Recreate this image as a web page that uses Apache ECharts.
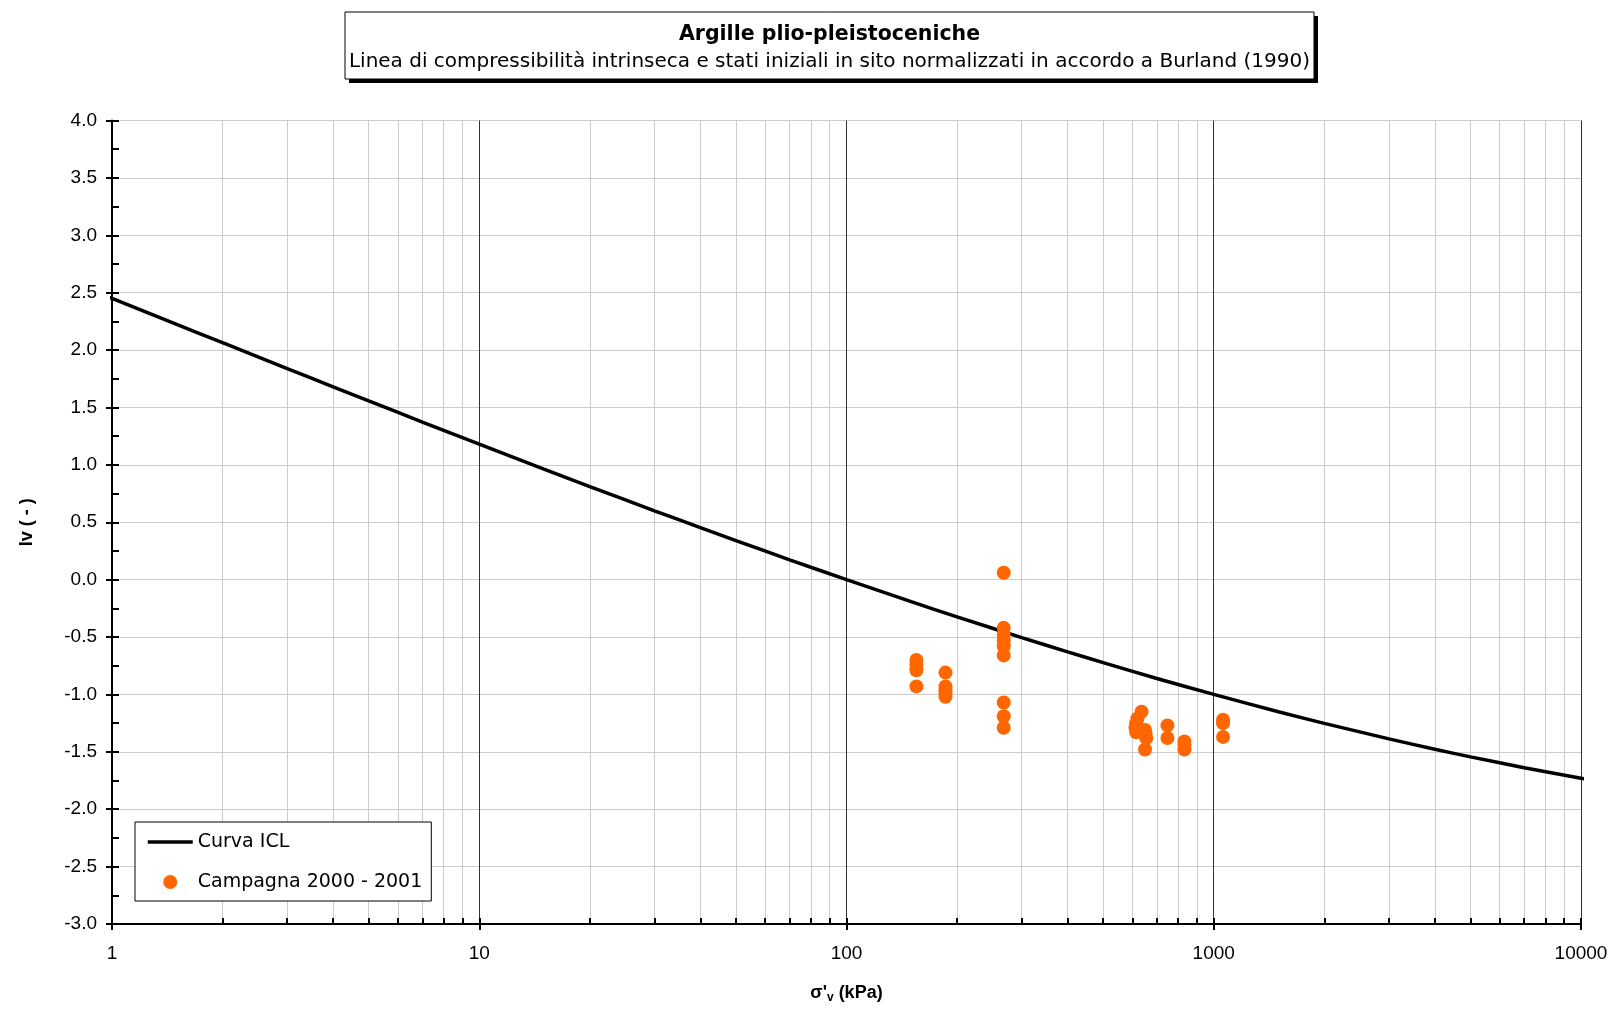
<!DOCTYPE html>
<html>
<head>
<meta charset="utf-8">
<title>Argille plio-pleistoceniche</title>
<script src="https://cdn.jsdelivr.net/npm/echarts@6/dist/echarts.min.js"></script>
<style>
  html, body { margin: 0; padding: 0; background: #ffffff; }
  #chart { width: 1614px; height: 1010px; }
</style>
</head>
<body>
<div id="chart"></div>
<script>
// Intrinsic compression line (ICL): vertical effective stress (kPa) and void index Iv
const iclSigma = [0.96, 1, 1.5, 2, 3, 4, 5, 7, 10, 15, 20, 30, 40, 50, 70, 100, 150, 200, 300, 400, 500, 700,
                  1000, 1500, 2000, 3000, 4000, 5000, 7000, 10000, 10500];
const iclIv    = [2.473, 2.450, 2.224, 2.064, 1.839, 1.680, 1.557, 1.373, 1.180, 0.963, 0.811, 0.600, 0.453, 0.340,
                  0.173, 0.000, -0.192, -0.324, -0.505, -0.629, -0.723, -0.861, -1.000, -1.151, -1.252, -1.387,
                  -1.478, -1.544, -1.638, -1.730, -1.742];

// In-situ initial states, campaign 2000 - 2001
const siteSigma = [155, 155, 155, 155,
                   186, 186, 186, 186, 186,
                   268, 268, 268, 268, 268, 268, 268, 268, 268,
                   636, 620, 615, 612, 615, 650, 652, 655, 650,
                   748, 748,
                   832, 832, 832,
                   1060, 1060, 1060];
const siteIv    = [-0.70, -0.74, -0.79, -0.93,
                   -0.81, -0.93, -0.96, -0.99, -1.02,
                   0.06, -0.42, -0.48, -0.53, -0.58, -0.66, -1.07, -1.19, -1.29,
                   -1.15, -1.21, -1.25, -1.29, -1.33, -1.31, -1.34, -1.38, -1.48,
                   -1.27, -1.38,
                   -1.41, -1.44, -1.48,
                   -1.22, -1.25, -1.37];

// Axis settings
const xMin = 1, xMax = 10000;
const yMin = -3.0, yMax = 4.0, yStep = 0.5;
const minorMultipliers = [2, 3, 4, 5, 6, 7, 8, 9];
const decades = [1, 10, 100, 1000];

const seriesNames = ['Curva ICL', 'Campagna 2000 - 2001'];
const titleText = 'Argille plio-pleistoceniche';
const subtitleText = 'Linea di compressibilità intrinseca e stati iniziali in sito normalizzati in accordo a Burland (1990)';

const gothic = '"DejaVu Sans", "Noto Sans", sans-serif';
const arial = '"Liberation Sans", Arial, sans-serif';

const iclData = iclSigma.map((s, i) => [s, iclIv[i]]);
const siteData = siteSigma.map((s, i) => [s, siteIv[i]]);

// minor logarithmic grid lines and the short inner ticks on the x axis
const minorValues = [];
decades.forEach(d => minorMultipliers.forEach(m => minorValues.push(m * d)));
const minorGrid = minorValues.map(v => ({ xAxis: v, lineStyle: { color: '#cccccc', width: 1, type: 'solid' } }));
const minorTicks = minorValues.map(v => [
  { coord: [v, yMin], lineStyle: { color: '#000000', width: 2, type: 'solid' } },
  { coord: [v, yMin + 0.052] }
]);

const chart = echarts.init(document.getElementById('chart'), null, { renderer: 'canvas' });

const option = {
  animation: false,
  backgroundColor: '#ffffff',
  grid: { left: 112, right: 33, top: 120.5, bottom: 86, containLabel: false },
  graphic: [
    { type: 'rect', silent: true, z: 10, shape: { x: 349, y: 16, width: 969, height: 67 }, style: { fill: '#000000' } },
    { type: 'rect', silent: true, z: 11, shape: { x: 345, y: 12, width: 969, height: 67 }, style: { fill: '#ffffff', stroke: '#000000', lineWidth: 1 } },
    { type: 'text', silent: true, z: 12, x: 829.5, y: 34.5,
      style: { text: titleText, fill: '#000000', font: 'bold 20.5px ' + gothic, align: 'center', verticalAlign: 'middle' } },
    { type: 'text', silent: true, z: 12, x: 829.5, y: 61.5,
      style: { text: subtitleText, fill: '#000000', font: '20px ' + gothic, align: 'center', verticalAlign: 'middle' } }
  ],
  legend: {
    left: 135, top: 822, orient: 'vertical',
    padding: [10, 9, 9, 11],
    itemWidth: 45, itemHeight: 14, itemGap: 20,
    backgroundColor: '#ffffff', borderColor: '#000000', borderWidth: 1, borderRadius: 0,
    textStyle: { fontSize: 19, lineHeight: 20, fontFamily: gothic, color: '#000000' },
    data: [
      { name: seriesNames[0], itemStyle: { opacity: 0 }, lineStyle: { width: 3.5, color: '#000000' } },
      { name: seriesNames[1] }
    ]
  },
  xAxis: [
    {
      type: 'log', logBase: 10, min: xMin, max: xMax, position: 'bottom',
      name: "{a|σ'}{b|v}{a| (kPa)}", nameLocation: 'middle', nameGap: 58,
      nameTextStyle: {
        rich: {
          a: { fontSize: 18, fontWeight: 'bold', fontFamily: arial, color: '#000000' },
          b: { fontSize: 12, fontWeight: 'bold', fontFamily: arial, color: '#000000', padding: [10, 0, 0, 0] }
        }
      },
      axisLine: { show: true, onZero: false, lineStyle: { color: '#000000', width: 2 } },
      axisTick: { show: true, inside: false, length: 6, lineStyle: { color: '#000000', width: 2 } },
      axisLabel: { fontSize: 19, fontFamily: arial, color: '#000000', margin: 20, formatter: v => String(v) },
      splitLine: { show: true, lineStyle: { color: '#333333', width: 1 } }
    },
    {
      type: 'log', logBase: 10, min: xMin, max: xMax, position: 'bottom',
      axisLine: { show: false, onZero: false },
      axisTick: { show: true, inside: true, length: 6, lineStyle: { color: '#000000', width: 2 } },
      axisLabel: { show: false },
      splitLine: { show: false }
    }
  ],
  yAxis: [
    {
      type: 'value', min: yMin, max: yMax, interval: yStep, position: 'left',
      name: 'Iv ( - )', nameLocation: 'middle', nameGap: 76,
      nameTextStyle: { fontSize: 18, fontWeight: 'bold', fontFamily: arial, color: '#000000' },
      axisLine: { show: true, onZero: false, lineStyle: { color: '#000000', width: 2 } },
      axisTick: { show: true, inside: false, length: 6, lineStyle: { color: '#000000', width: 2 } },
      axisLabel: { fontSize: 19, fontFamily: arial, color: '#000000', margin: 15, formatter: v => v.toFixed(1) },
      splitLine: { show: true, lineStyle: { color: '#cccccc', width: 1 } }
    },
    {
      type: 'value', min: yMin, max: yMax, interval: yStep, position: 'left',
      axisLine: { show: false, onZero: false },
      axisTick: { show: true, inside: true, length: 7, lineStyle: { color: '#000000', width: 2 } },
      minorTick: { show: true, splitNumber: 2, length: 7, lineStyle: { color: '#000000', width: 2 } },
      axisLabel: { show: false },
      splitLine: { show: false }
    }
  ],
  series: [
    {
      name: seriesNames[0], type: 'line', xAxisIndex: 0, yAxisIndex: 0,
      data: iclData, smooth: 0.2, symbol: 'none', clip: false, z: 4,
      lineStyle: { color: '#000000', width: 3.5 },
      itemStyle: { color: '#000000' }
    },
    {
      name: seriesNames[1], type: 'scatter', xAxisIndex: 0, yAxisIndex: 0,
      data: siteData, symbol: 'circle', symbolSize: 14, z: 5,
      itemStyle: { color: '#ff6600', opacity: 1 },
      markLine: {
        silent: true, z: 1, symbol: ['none', 'none'], animation: false,
        label: { show: false },
        data: minorGrid.concat(minorTicks)
      }
    }
  ]
};

chart.setOption(option);
</script>
</body>
</html>
